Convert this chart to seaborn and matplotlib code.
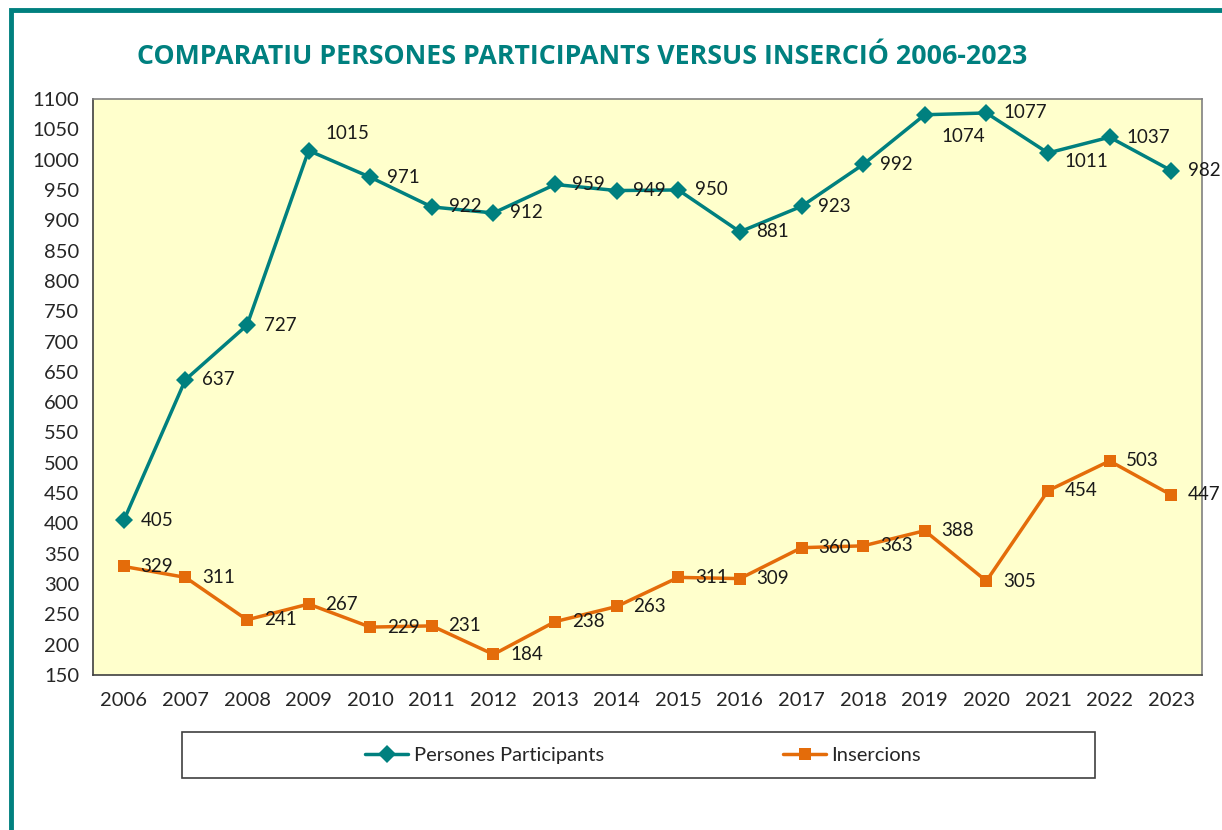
import pandas as pd
import seaborn as sns
import matplotlib.pyplot as plt
from matplotlib.patches import Rectangle

years = [str(y) for y in range(2006, 2024)]
participants = [405, 637, 727, 1015, 971, 922, 912, 959, 949, 950,
                881, 923, 992, 1074, 1077, 1011, 1037, 982]
insercions = [329, 311, 241, 267, 229, 231, 184, 238, 263, 311,
              309, 360, 363, 388, 305, 454, 503, 447]

TEAL = "#00807F"
ORANGE = "#E46C0A"

sns.set_theme(style="white")
plt.rcParams["font.family"] = ["Lato", "DejaVu Sans"]

df = pd.DataFrame({
    "pos": list(range(len(years))) * 2,
    "value": participants + insercions,
    "serie": ["Persones Participants"] * len(years) + ["Insercions"] * len(years),
})

fig = plt.figure(figsize=(12.22, 8.30), dpi=100)
ax = fig.add_axes([93 / 1222, 1 - 675 / 830, (1202 - 93) / 1222, (675 - 99) / 830])
ax.set_facecolor("#FFFFCC")

sns.lineplot(data=df, x="pos", y="value", hue="serie", style="serie",
             markers={"Persones Participants": "D", "Insercions": "s"},
             dashes=False, palette={"Persones Participants": TEAL, "Insercions": ORANGE},
             linewidth=2.5, markersize=9, markeredgewidth=0, ax=ax, legend=False)

# data labels (Excel "right" position, a few moved)
special = {3: (12, 12), 13: (12, -16), 15: (12, -6)}
for i, v in enumerate(participants):
    dx, dy = special.get(i, (12, 0))
    ax.annotate(str(v), (i, v), xytext=(dx, dy), textcoords="offset points",
                ha="left", va="center", fontsize=13.5, color="#1a1a1a")
for i, v in enumerate(insercions):
    ax.annotate(str(v), (i, v), xytext=(12, 0), textcoords="offset points",
                ha="left", va="center", fontsize=13.5, color="#1a1a1a")

ax.set_xlim(-0.5, len(years) - 0.5)
ax.set_ylim(150, 1100)
ax.set_yticks(range(150, 1101, 50))
ax.set_xticks(range(len(years)))
ax.set_xticklabels(years)
ax.set_xticks([i - 0.5 for i in range(len(years) + 1)], minor=True)
ax.tick_params(axis="x", which="major", length=0, pad=12, labelsize=14.5)
ax.tick_params(axis="x", which="minor", length=6, width=1, color="#404040", direction="out")
ax.tick_params(axis="y", length=6, width=1, color="#404040", direction="out", labelsize=14.5, pad=4)
ax.set_xlabel("")
ax.set_ylabel("")
for s in ax.spines.values():
    s.set_color("#808080")
    s.set_linewidth(1.2)
ax.spines["left"].set_color("#404040")
ax.spines["bottom"].set_color("#404040")

fig.text(582 / 1222, 1 - 57 / 830, "COMPARATIU PERSONES PARTICIPANTS VERSUS INSERCIÓ 2006-2023",
         ha="center", va="center", fontsize=19.3, fontweight="bold", color=TEAL,
         family=["Open Sans", "DejaVu Sans"])

# legend box and entries
fig.patches.append(Rectangle((182 / 1222, 1 - 778 / 830), (1095 - 182) / 1222, 46 / 830,
                             transform=fig.transFigure, fill=False,
                             edgecolor="#404040", linewidth=1.2))
h1, = ax.plot([], [], color=TEAL, marker="D", lw=2.5, ms=9, mew=0)
h2, = ax.plot([], [], color=ORANGE, marker="s", lw=2.5, ms=9, mew=0)
fig.legend([h1, h2], ["Persones Participants", "Insercions"], ncol=2,
           loc="center", bbox_to_anchor=(643 / 1222, 1 - 755 / 830),
           frameon=False, fontsize=14.5, handlelength=2.15,
           handletextpad=0.25, columnspacing=8.9, borderaxespad=0)

# outer chart border (top and left visible)
fig.patches.append(Rectangle((11 / 1222, -0.1), 1.2, 1.1 - 10 / 830,
                             transform=fig.transFigure, fill=False,
                             edgecolor=TEAL, linewidth=3.5, zorder=10))

fig.savefig("out.png", dpi=100)
